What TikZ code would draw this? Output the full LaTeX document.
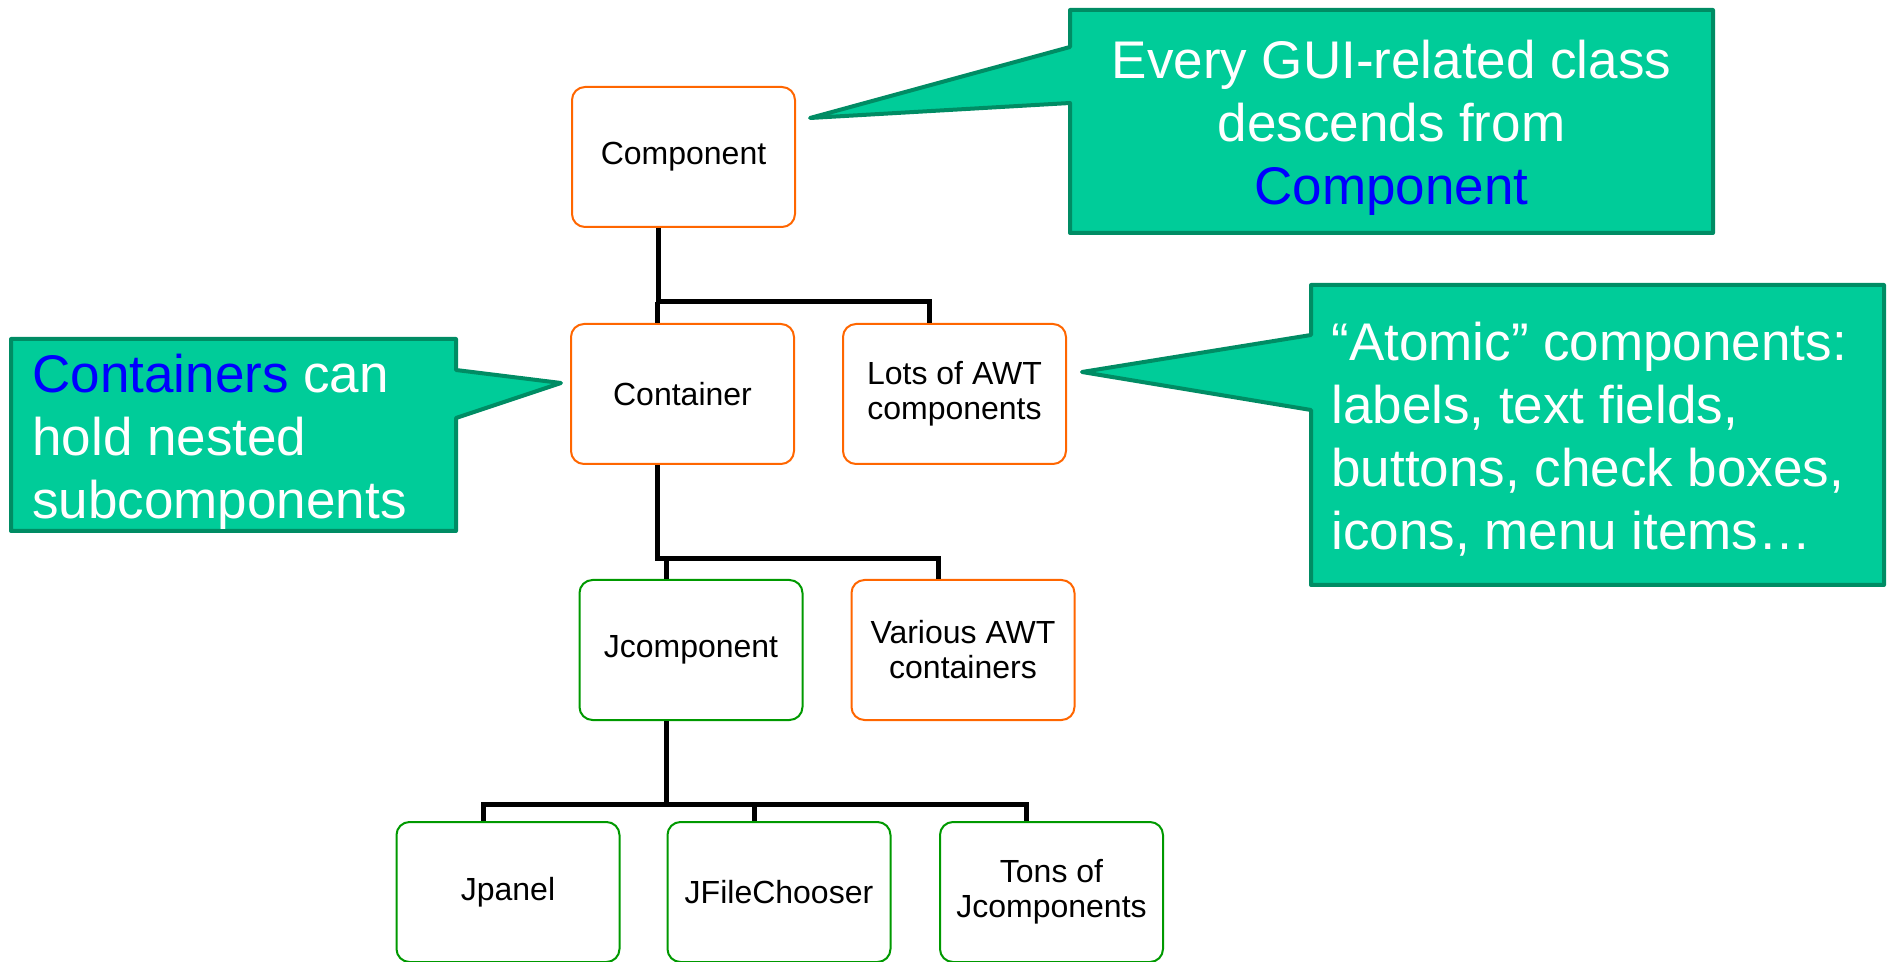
\documentclass[tikz,border=0pt]{standalone}
\usepackage{fontspec}
\setmainfont{Liberation Sans}
\definecolor{orng}{RGB}{255,102,0}
\definecolor{grn}{RGB}{0,153,0}
\definecolor{cfill}{RGB}{0,204,153}
\definecolor{cborder}{RGB}{0,140,100}
\begin{document}
\begin{tikzpicture}[x=0.5pt,y=-0.5pt,
 box/.style={draw, rounded corners=6.5pt, line width=1pt, minimum width=111.5pt, minimum height=70pt, align=center, inner sep=0pt, font=\fontsize{16}{17.5}\selectfont, fill=white},
 obox/.style={box, draw=orng},
 gbox/.style={box, draw=grn},
 conn/.style={line width=2.5pt, black},
 callout/.style={fill=cfill, draw=cborder, line width=2pt, line join=round},
 ctext/.style={text=white, inner sep=0pt, font=\fontsize{26.5}{31.5}\selectfont}
]
\useasboundingbox (0,0) rectangle (1892,962);

% boxes
\node[obox] (comp) at (683.5,157) {Component};
\node[obox] (cont) at (682.5,394) {Container};
\node[obox] (lots) at (954.5,394) {Lots of AWT\\components};
\node[gbox] (jcomp) at (691,650) {Jcomponent};
\node[obox] (various) at (963,650) {Various AWT\\containers};
\node[gbox] (jpanel) at (508,892) {Jpanel};
\node[gbox] (jfile) at (779,892) {JFileChooser};
\node[gbox] (tons) at (1051.5,892) {Tons of\\Jcomponents};

% connector anchors (offset left of centre)
\coordinate (bus1) at (0,302);
\coordinate (bus2) at (0,559);
\coordinate (bus3) at (0,804);
\coordinate (compS) at ([xshift=-12.5pt]comp.south);
\coordinate (contN) at ([xshift=-12.5pt]cont.north);
\coordinate (contS) at ([xshift=-12.5pt]cont.south);
\coordinate (lotsN) at ([xshift=-12.5pt]lots.north);
\coordinate (jcompN) at ([xshift=-12.5pt]jcomp.north);
\coordinate (jcompS) at ([xshift=-12.5pt]jcomp.south);
\coordinate (variousN) at ([xshift=-12.5pt]various.north);
\coordinate (jpanelN) at ([xshift=-12.5pt]jpanel.north);
\coordinate (jfileN) at ([xshift=-12.5pt]jfile.north);
\coordinate (tonsN) at ([xshift=-12.5pt]tons.north);

\draw[conn] (compS) -- (compS |- bus1) -| (lotsN);
\draw[conn] (contN |- bus1) -- (contN);

\draw[conn] (contS) -- (contS |- bus2) -| (variousN);
\draw[conn] (jcompN |- bus2) -- (jcompN);

\draw[conn] (jcompS) -- (jcompS |- bus3);
\draw[conn] (jpanelN) |- (jcompS |- bus3) -| (tonsN);
\draw[conn] (jfileN |- bus3) -- (jfileN);

% callouts
\draw[callout] (1070,10) -- (1713,10) -- (1713,233) -- (1070,233) -- (1070,103) -- (810,118) -- (1070,47) -- cycle;
\draw[callout] (1311,285) -- (1884,285) -- (1884,585) -- (1311,585) -- (1311,410) -- (1082,372) -- (1311,335) -- cycle;
\draw[callout] (11,339) -- (456,339) -- (456,370) -- (561,383) -- (456,418) -- (456,531) -- (11,531) -- cycle;

\node[ctext, align=center] (t1) at (1391.5,128) {Every GUI-related class\\descends from\\\textcolor{blue}{Component}};
\node[ctext, align=left, anchor=west] (t2) at (1331,439) {“Atomic” components:\\labels, text fields,\\buttons, check boxes,\\icons, menu items…};
\node[ctext, align=left, anchor=west] (t3) at (32,442) {\textcolor{blue}{Containers} can\\hold nested\\subcomponents};
\end{tikzpicture}
\end{document}
